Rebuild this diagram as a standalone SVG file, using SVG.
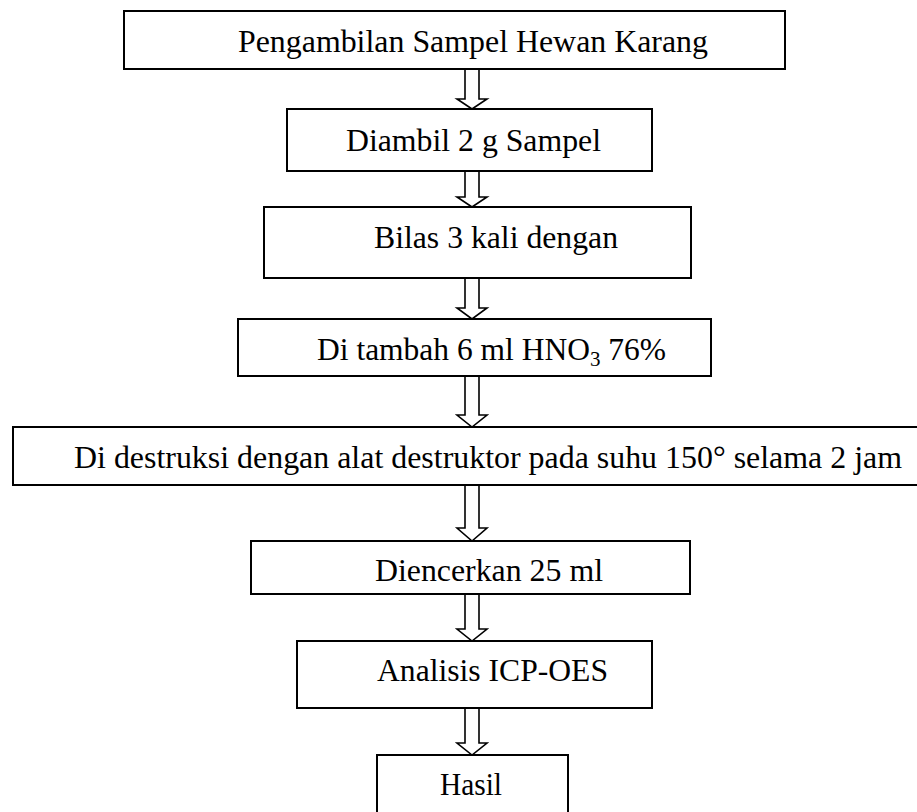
<svg xmlns="http://www.w3.org/2000/svg" width="917" height="812" viewBox="0 0 917 812">
<style>
.box{fill:#fff;stroke:#000;stroke-width:2}
.lbl{font-family:"Liberation Serif","Times New Roman",serif;font-size:31.5px;fill:#000}
.arr{fill:#fff;stroke:#000;stroke-width:1.6;stroke-linejoin:miter}
</style>
<rect width="917" height="812" fill="#fff"/>
<g id="connectors">
<path class="arr" d="M465,69 V99 H457 L472,109 L487,99 H479 V69"/>
<path class="arr" d="M465,171 V197 H457 L472,207 L487,197 H479 V171"/>
<path class="arr" d="M465,278 V308 H457 L472,319 L487,308 H479 V278"/>
<path class="arr" d="M465,376 V415 H457 L472,427 L487,415 H479 V376"/>
<path class="arr" d="M465,485 V528 H457 L472,541 L487,528 H479 V485"/>
<path class="arr" d="M465,594 V629 H457 L472,641 L487,629 H479 V594"/>
<path class="arr" d="M465,708 V743 H457 L472,755 L487,743 H479 V708"/>
</g>
<g id="n1"><rect class="box" x="124" y="11" width="661" height="58"/><text class="lbl" x="238" y="52" textLength="470" lengthAdjust="spacingAndGlyphs">Pengambilan Sampel Hewan Karang</text></g>
<g id="n2"><rect class="box" x="287" y="109" width="365" height="62"/><text class="lbl" x="346" y="151" textLength="255" lengthAdjust="spacingAndGlyphs">Diambil 2 g Sampel</text></g>
<g id="n3"><rect class="box" x="264" y="207" width="427" height="71"/><text class="lbl" x="374" y="248" textLength="244" lengthAdjust="spacingAndGlyphs">Bilas 3 kali dengan</text></g>
<g id="n4"><rect class="box" x="238" y="319" width="473" height="57"/><text class="lbl" x="317" y="360">Di tambah 6 ml HNO<tspan font-size="21" dy="6">3</tspan><tspan dy="-6"> 76%</tspan></text></g>
<g id="n5"><rect class="box" x="13" y="427" width="912" height="58"/><text class="lbl" x="74" y="468" textLength="828" lengthAdjust="spacingAndGlyphs">Di destruksi dengan alat destruktor pada suhu 150° selama 2 jam</text></g>
<g id="n6"><rect class="box" x="251" y="541" width="439" height="53"/><text class="lbl" x="375" y="581" textLength="228" lengthAdjust="spacingAndGlyphs">Diencerkan 25 ml</text></g>
<g id="n7"><rect class="box" x="297" y="641" width="355" height="67"/><text class="lbl" x="377" y="681" textLength="231" lengthAdjust="spacingAndGlyphs">Analisis ICP-OES</text></g>
<g id="n8"><rect class="box" x="377" y="755" width="191" height="70"/><text class="lbl" x="440" y="795" textLength="62" lengthAdjust="spacingAndGlyphs">Hasil</text></g>
</svg>
